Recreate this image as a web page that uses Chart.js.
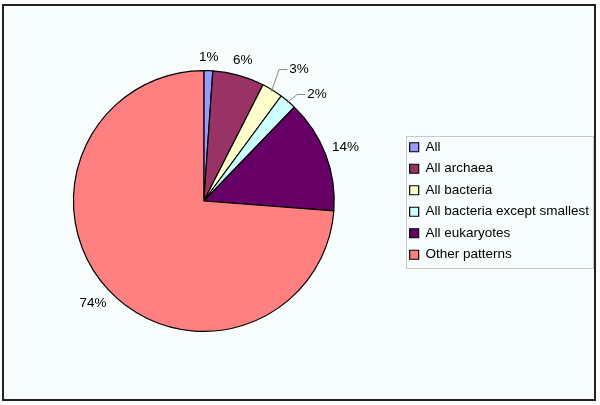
<!DOCTYPE html>
<html><head><meta charset="utf-8">
<script src="https://cdn.jsdelivr.net/npm/chart.js@4.4.1/dist/chart.umd.min.js"></script>
<style>html,body{margin:0;padding:0;background:#fff}canvas{display:block}</style>
</head><body>
<canvas id="c" width="600" height="405"></canvas>
<script>
const categories = ['All', 'All archaea', 'All bacteria', 'All bacteria except smallest', 'All eukaryotes', 'Other patterns'];
const shares = [1.1, 6.4, 2.6, 2.1, 14.0, 73.8];
const sliceColors = ['#9999FF', '#993366', '#FFFFCC', '#CCFFFF', '#660066', '#FF8080'];

const FONT = '"Liberation Sans", Arial, sans-serif';

const framePlugin = {
  id: 'frame',
  beforeDraw(chart) {
    const ctx = chart.ctx;
    ctx.save();
    ctx.fillStyle = '#ffffff';
    ctx.fillRect(0, 0, chart.width, chart.height);
    ctx.fillStyle = '#f7fdfd';
    ctx.fillRect(3, 5, 592, 395);
    ctx.strokeStyle = '#222';
    ctx.lineWidth = 2;
    ctx.strokeRect(3, 5, 592, 395);
    ctx.restore();
  },
  afterDraw(chart) {
    const lg = chart.legend;
    if (!lg || !lg.legendHitBoxes || !lg.legendHitBoxes.length) return;
    const hb = lg.legendHitBoxes;
    let l = Infinity, r = -Infinity, t = Infinity, b = -Infinity;
    hb.forEach(h => { l = Math.min(l, h.left); r = Math.max(r, h.left + h.width); t = Math.min(t, h.top); b = Math.max(b, h.top + h.height); });
    const ctx = chart.ctx;
    ctx.save();
    ctx.strokeStyle = '#c8c8c8';
    ctx.lineWidth = 1;
    ctx.strokeRect(Math.round(l - 4) + 0.5, Math.round(t - 5) + 0.5, Math.round(r - l + 8), Math.round(b - t + 11));
    ctx.restore();
  }
};

const labelPlugin = {
  id: 'pctLabels',
  afterDatasetsDraw(chart, args, opts) {
    const ctx = chart.ctx;
    const meta = chart.getDatasetMeta(0);
    const data = chart.data.datasets[0].data;
    const total = data.reduce((a, v) => a + v, 0);
    ctx.save();
    ctx.font = '13.5px ' + FONT;
    ctx.fillStyle = '#000';
    ctx.textAlign = 'center';
    ctx.textBaseline = 'middle';
    meta.data.forEach((arc, i) => {
      const p = arc.getProps(['x', 'y', 'startAngle', 'endAngle', 'outerRadius'], true);
      const mid = (p.startAngle + p.endAngle) / 2;
      const txt = Math.round(data[i] / total * 100) + '%';
      const w = ctx.measureText(txt).width;
      const hh = 7;
      const lead = opts.leaders[i];
      const ang = lead ? mid + lead.rotate * Math.PI / 180 : mid;
      const vx = Math.cos(ang), vy = Math.sin(ang);
      const dist = p.outerRadius + opts.offset + Math.abs(vx) * w / 2 + Math.abs(vy) * hh + (lead ? lead.extra : 0);
      const cx = p.x + vx * dist, cy = p.y + vy * dist;
      ctx.fillText(txt, cx, cy);
      if (lead) {
        ctx.strokeStyle = '#8a8a8a';
        ctx.lineWidth = 1;
        ctx.beginPath();
        ctx.moveTo(cx - w / 2 - 2, Math.round(cy) - 0.5);
        ctx.lineTo(cx - w / 2 - 10, Math.round(cy) - 0.5);
        const r = p.outerRadius - 2;
        ctx.lineTo(p.x + Math.cos(mid) * r, p.y + Math.sin(mid) * r);
        ctx.stroke();
      }
    });
    ctx.restore();
  }
};

new Chart(document.getElementById('c'), {
  type: 'pie',
  data: {
    labels: categories,
    datasets: [{
      data: shares,
      backgroundColor: sliceColors,
      borderColor: '#000',
      borderWidth: 1.2
    }]
  },
  options: {
    responsive: false,
    devicePixelRatio: 1,
    animation: false,
    events: [],
    layout: { padding: { left: 6, right: 1, top: 70, bottom: 73 } },
    plugins: {
      tooltip: { enabled: false },
      legend: {
        position: 'right',
        align: 'center',
        labels: {
          boxWidth: 9,
          boxHeight: 9,
          padding: 8,
          color: '#000',
          font: { size: 13.5, family: FONT }
        }
      },
      pctLabels: {
        offset: 6,
        leaders: { 2: { rotate: 4.2, extra: 14.4 }, 3: { rotate: 6.6, extra: 7 } }
      }
    }
  },
  plugins: [framePlugin, labelPlugin]
});
</script>
</body></html>
